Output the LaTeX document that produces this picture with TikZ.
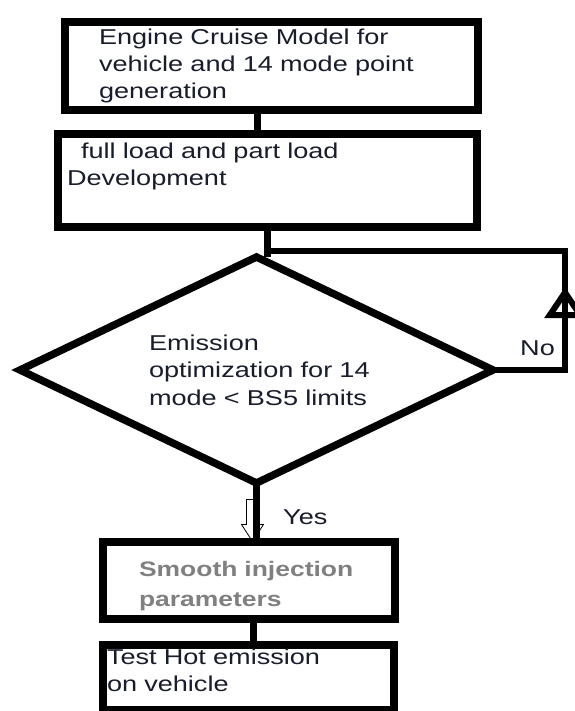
\documentclass[tikz,border=0pt]{standalone}
\usepackage{fontspec}
\usetikzlibrary{shapes.geometric,arrows.meta}
\newfontfamily\flowfont{Liberation Sans}[FakeStretch=1.26]
\definecolor{ink}{RGB}{24,28,44}
\definecolor{greytext}{RGB}{128,128,128}

\tikzset{
  box/.style={draw, rectangle, line width=8pt, anchor=north west, inner ysep=0pt,
    align=left, text=ink, font=\flowfont\fontsize{21.5}{27}\selectfont},
  decision/.style={draw, diamond, aspect=2.1, line width=7.5pt, inner sep=0pt, outer sep=0pt,
    align=left, text=ink, font=\flowfont\fontsize{21.5}{27.5}\selectfont},
  flow/.style={line width=7pt},
  loopline/.style={line width=6pt},
  tag/.style={inner sep=0pt, text=ink, font=\flowfont\fontsize{21.5}{27}\selectfont},
}

\begin{document}
\begin{tikzpicture}[x=1pt,y=-1pt]
\useasboundingbox (0,0) rectangle (574,711);

% process boxes
\node[box, inner xsep=34.5pt, text width=344pt, text height=23pt, text depth=65pt]
  (cruise) at (60.5,18) {Engine Cruise Model for\\vehicle and 14 mode point\\generation};
\node[box, inner xsep=9pt, text width=401pt, text height=24.5pt, text depth=67.5pt]
  (load) at (54,130.5) {\hspace*{14pt}full load and part load\\Development};

% decision
\node[decision, minimum width=473pt, minimum height=226pt, text width=215pt]
  (emis) at (256.5,370) {Emission\\\mbox{optimization for 14}\\\mbox{mode < BS5 limits}};

\node[box, inner xsep=36.5pt, text width=219.5pt, text height=34.5pt, text depth=43pt,
  text=greytext, font=\flowfont\bfseries\fontsize{21}{30}\selectfont]
  (smooth) at (98.5,537.5) {Smooth injection\\parameters};
\node[box, inner xsep=4.5pt, text width=282pt, text height=19pt, text depth=46pt]
  (test) at (98.5,641) {Test Hot emission\\on vehicle};

% straight connectors
\draw[flow] ([xshift=-14pt]cruise.south) -- ([xshift=-14pt]cruise.south |- load.north);
\draw[flow] (load.south) -- (load.south |- emis.north);
\draw[flow] ([xshift=5pt]smooth.south) -- ([xshift=5pt]smooth.south |- test.north);

% No loop back to the top of the decision
\coordinate (noup) at (565,251);
\coordinate (notip) at (565,287);
\draw[loopline] (emis.east) -| (noup) -- (load.south |- noup);
\draw[loopline, -{Triangle[open,length=31pt,width=40pt]}] (noup |- emis.east) -- (notip);
\node[tag, anchor=base west] (no) at (520,355) {No};

% Yes branch, hollow arrow under the line
\coordinate (yesend) at (emis.south |- smooth.north);
\draw[line width=0.8pt] ([shift={(-10,-38)}]yesend) -- ++(0,25) -- ++(-5,0) -- ++(11,17)
  -- ++(11,-17) -- ++(-5,0) -- ++(0,-25) -- cycle;
\draw[flow] (emis.south) -- (yesend);
\node[tag, anchor=base west] (yes) at (283,524) {Yes};

\end{tikzpicture}
\end{document}
